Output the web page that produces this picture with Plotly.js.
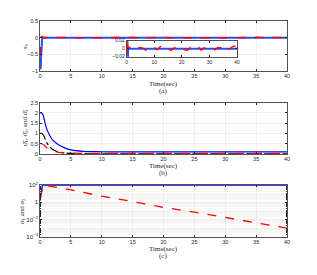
<!DOCTYPE html>
<html><head><meta charset="utf-8">
<script src="https://cdn.plot.ly/plotly-3.0.1.min.js"></script>
<style>html,body{margin:0;padding:0;background:#fff;}#c{width:317px;height:275px;}</style>
</head><body><div id="c"></div>
<script>
// Panel (a)
const tA = [0,0.1,0.2,0.25,0.3,0.35,0.5,1,2,3,4,5,6,7,8,9,10,11,12,13,14,15,16,17,18,19,20,21,22,23,24,25,26,27,28,29,30,31,32,33,34,35,36,37,38,39,40];
const blueA = [-0.95,-0.92,-0.5,-0.2,0,0,0,0,0,0,0,0,0,0,0,0,0,0,0,0,0,0,0,0,0,0,0,0,0,0,0,0,0,0,0,0,0,0,0,0,0,0,0,0,0,0,0];
const redA = [-0.55,-0.3,-0.05,0.05,0.04,0.02,0.004,0.003,0.004,-0.002,0.002,0.003,0.001,-0.004,0.002,0.004,0.003,-0.003,0.004,0.009,0.003,0.002,-0.005,0.001,0.004,0.003,0.005,-0.003,-0.004,0.003,0.004,0.008,0.005,-0.004,0.002,0.003,0.004,0.001,-0.003,0.003,0.002,0.009,0.004,-0.002,0.003,0.007,0.004];
// Panel (b)
const tB1 = [0,0.3,0.5,1,1.5,2,3,4,5,7,10,15,40];
const blueB = [2,2,1.9,1.3,0.95,0.7,0.45,0.3,0.2,0.13,0.11,0.1,0.1];
const tB2 = [0,0.3,0.6,1,1.5,2,3,4,5,7,10,40];
const blackB = [1,1,0.9,0.6,0.38,0.23,0.1,0.05,0.03,0.015,0.01,0.01];
const redB = [0.5,0.5,0.45,0.33,0.22,0.15,0.08,0.05,0.04,0.035,0.03,0.03];
// Panel (c)
const tC1 = [0,0.1,0.2,0.3,0.4,40];
const blueC = [1.5,3,10,40,100,100];
const tC2 = [0,0.2,0.4,0.6,5,10,15,20,25,30,35,40];
const redC = [3,10,40,100,27,5,1.2,0.25,0.07,0.016,0.004,0.001];

const W=317,H=275;
const px=x=>x/W, py=y=>1-y/H;
const tickF={family:'Liberation Sans, Arial',size:5.5,color:'#262626'};
const gridC='#e6e6e6';
function ax(extra){return Object.assign({showline:true,mirror:'ticks',linecolor:'#262626',linewidth:0.8,ticks:'inside',ticklen:2,tickcolor:'#262626',tickfont:tickF,showgrid:true,gridcolor:gridC,gridwidth:0.6,zeroline:false,fixedrange:true},extra);}

const traces=[
 {x:tA,y:blueA,xaxis:'x',yaxis:'y',mode:'lines',line:{color:'#2b4dff',width:2}},
 {x:tA,y:redA,xaxis:'x',yaxis:'y',mode:'lines',line:{color:'#ff0000',width:1.5,dash:'dash'}},
 {x:tA,y:blueA,xaxis:'x2',yaxis:'y2',mode:'lines',line:{color:'#2b4dff',width:2}},
 {x:tA,y:redA,xaxis:'x2',yaxis:'y2',mode:'lines',line:{color:'#ff0000',width:1.3,dash:'dash'}},
 {x:tB1,y:blueB,xaxis:'x3',yaxis:'y3',mode:'lines',line:{color:'#0000ff',width:1.2,shape:'spline'}},
 {x:tB2,y:blackB,xaxis:'x3',yaxis:'y3',mode:'lines',line:{color:'#000000',width:1.2,dash:'dashdot',shape:'spline'}},
 {x:tB2,y:redB,xaxis:'x3',yaxis:'y3',mode:'lines',line:{color:'#ff0000',width:1.2,dash:'dash',shape:'spline'}},
 {x:tC1,y:blueC,xaxis:'x4',yaxis:'y4',mode:'lines',line:{color:'#0000ff',width:1.3}},
 {x:tC2,y:redC,xaxis:'x4',yaxis:'y4',mode:'lines',line:{color:'#ff0000',width:1.3,dash:'dash'}}
];
const xd=[px(40),px(287)];
const smallF={family:'Liberation Sans, Arial',size:5,color:'#262626'};
const layout={
 width:W,height:H,margin:{l:0,r:0,t:0,b:0},showlegend:false,paper_bgcolor:'#fff',plot_bgcolor:'#fff',
 xaxis:ax({domain:xd,anchor:'y',range:[0,40],dtick:5}),
 yaxis:ax({domain:[py(71),py(21)],anchor:'x',range:[-1,0.5],dtick:0.5}),
 xaxis2:ax({domain:[px(126.7),px(237)],anchor:'y2',range:[0,40],dtick:10,showgrid:false,tickfont:smallF}),
 yaxis2:ax({domain:[py(56.7),py(40.7)],anchor:'x2',range:[-0.02,0.02],dtick:0.02,showgrid:false,tickfont:smallF}),
 xaxis3:ax({domain:xd,anchor:'y3',range:[0,40],dtick:5}),
 yaxis3:ax({domain:[py(154),py(102.7)],anchor:'x3',range:[0,2.5],dtick:0.5}),
 xaxis4:ax({domain:xd,anchor:'y4',range:[0,40],dtick:5}),
 yaxis4:ax({domain:[py(236.7),py(185)],anchor:'x4',type:'log',range:[-4,2],dtick:2,exponentformat:'power',tickfont:smallF,
   minor:{dtick:'D1',showgrid:true,gridcolor:'#efefef',gridwidth:0.5,ticks:'inside',ticklen:1}}),
 annotations:[]
};
const serif={family:'Liberation Serif, Times New Roman',size:7,color:'#262626'};
function ann(text,x,y,angle){layout.annotations.push({text:text,xref:'paper',yref:'paper',x:px(x),y:py(y),xanchor:'center',yanchor:'middle',showarrow:false,font:serif,textangle:angle||0});}
ann('Time(sec)',163,83.5); ann('(a)',163,90.5);
ann('Time(sec)',163,165.5); ann('(b)',163,172.5);
ann('Time(sec)',163,248.5); ann('(c)',163,255.5);
ann('<i>s</i><sub>1</sub>',25,46,-90);
ann('<i>ϑ̃</i><sub>1</sub>, <i>ϑ̃</i><sub>2</sub>, and <i>ϑ̃</i><sub>3</sub>',25,128,-90);
ann('<i>σ</i><sub>1</sub> and <i>σ</i><sub>2</sub>',22,211,-90);
Plotly.newPlot('c',traces,layout,{staticPlot:true,displayModeBar:false});
</script></body></html>
